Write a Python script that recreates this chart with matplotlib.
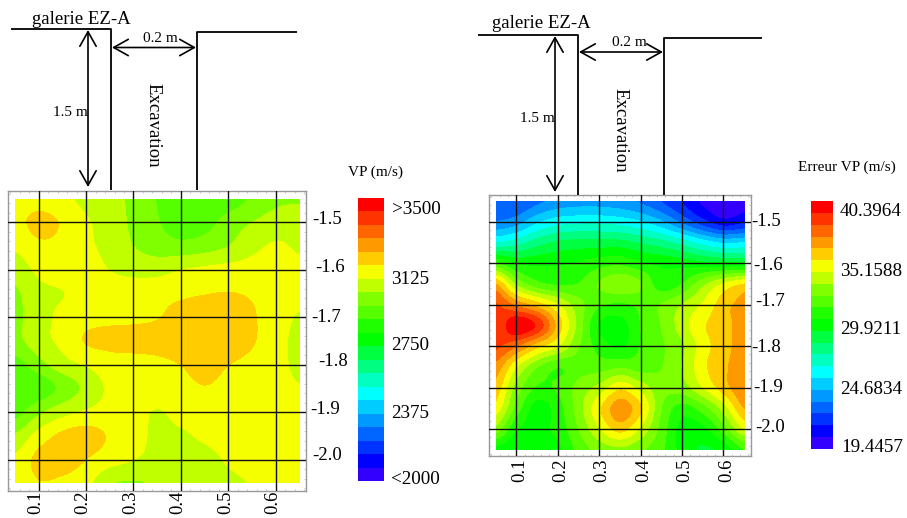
import numpy as np
import matplotlib
matplotlib.use('Agg')
import matplotlib.pyplot as plt
from matplotlib.colors import ListedColormap, BoundaryNorm
from matplotlib.patches import Rectangle

plt.rcParams['font.family'] = ['Liberation Serif', 'DejaVu Serif']

W, H = 907, 518

# --- Data ---
x_ticks = [0.1, 0.2, 0.3, 0.4, 0.5, 0.6]
y_ticks = [-1.5, -1.6, -1.7, -1.8, -1.9, -2.0]
x_tick_labels = ['0.1', '0.2', '0.3', '0.4', '0.5', '0.6']
y_tick_labels = ['-1.5', '-1.6', '-1.7', '-1.8', '-1.9', '-2.0']

# rows go from y=-1.45 down to y=-2.05, columns from x=0.05 to x=0.65, step 0.05
vp_values = [
    [3100, 3110, 3090, 3050, 3020, 2985, 2925, 2880, 2865, 2885, 2940, 2985, 2990],
    [3120, 3165, 3135, 3080, 3040, 2985, 2935, 2885, 2900, 2960, 3000, 3030, 3040],
    [3085, 3130, 3125, 3085, 3050, 3000, 2965, 2950, 2965, 3000, 3050, 3080, 3060],
    [3030, 3090, 3110, 3100, 3070, 3050, 3045, 3070, 3085, 3095, 3100, 3105, 3090],
    [2990, 3050, 3070, 3100, 3105, 3110, 3120, 3130, 3140, 3145, 3135, 3115, 3095],
    [2985, 3040, 3090, 3115, 3125, 3130, 3140, 3165, 3175, 3175, 3150, 3105, 3065],
    [2980, 3045, 3090, 3150, 3165, 3165, 3165, 3175, 3185, 3180, 3150, 3100, 3050],
    [2900, 2975, 3045, 3080, 3110, 3120, 3130, 3145, 3165, 3145, 3125, 3095, 3055],
    [2860, 2880, 2950, 3020, 3085, 3100, 3115, 3125, 3140, 3125, 3115, 3095, 3075],
    [2900, 2985, 3045, 3080, 3095, 3095, 3068, 3095, 3105, 3105, 3105, 3100, 3090],
    [3010, 3100, 3160, 3175, 3135, 3095, 3060, 3062, 3085, 3100, 3105, 3105, 3100],
    [3085, 3165, 3180, 3145, 3105, 3075, 3050, 3040, 3050, 3080, 3095, 3100, 3100],
    [3100, 3140, 3130, 3095, 3010, 2995, 3010, 3025, 3040, 3060, 3075, 3095, 3100],
]
err_values = [
    [22.5, 22.5, 23.2, 23.8, 24.0, 24.0, 23.8, 23.3, 22.4, 21.3, 20.2, 19.6, 20.0],
    [23.5, 24.0, 25.3, 26.0, 26.2, 26.2, 26.0, 25.5, 24.6, 23.2, 21.8, 20.8, 21.3],
    [26.5, 27.0, 28.0, 28.6, 28.8, 28.8, 28.8, 28.3, 27.8, 27.0, 26.0, 25.3, 25.5],
    [31.5, 30.3, 30.2, 30.3, 30.5, 31.0, 31.2, 30.6, 30.2, 30.0, 29.7, 29.6, 29.6],
    [36.5, 33.3, 31.8, 31.3, 31.5, 32.5, 33.1, 32.5, 30.8, 31.5, 33.2, 34.6, 35.5],
    [38.5, 37.2, 36.0, 34.5, 32.8, 31.6, 31.3, 31.7, 32.5, 33.5, 34.6, 36.0, 36.8],
    [38.5, 40.3, 39.2, 36.0, 33.0, 30.3, 30.0, 31.5, 32.5, 34.0, 35.3, 36.0, 37.0],
    [38.6, 37.5, 35.8, 34.5, 32.5, 31.0, 30.3, 31.5, 32.3, 33.3, 35.0, 36.0, 37.0],
    [37.0, 34.5, 32.5, 31.5, 32.0, 32.0, 32.3, 32.0, 32.4, 33.5, 35.2, 36.2, 37.2],
    [36.0, 33.0, 31.3, 31.6, 32.8, 33.8, 35.2, 34.0, 32.8, 33.0, 34.5, 36.0, 37.3],
    [35.0, 32.0, 30.0, 31.0, 33.0, 35.3, 37.0, 35.5, 32.4, 31.0, 32.0, 34.0, 36.5],
    [33.0, 30.5, 30.1, 30.8, 32.5, 34.4, 35.8, 34.2, 32.0, 30.0, 30.2, 32.0, 34.5],
    [30.0, 29.5, 29.8, 30.2, 31.8, 32.8, 33.2, 32.6, 31.6, 30.0, 29.3, 29.8, 31.5],
]

vp_range = (2000, 3500)
err_range = (19.4457, 40.3964)
vp_cbar_labels = ['>3500', '3125', '2750', '2375', '<2000']
err_cbar_labels = ['40.3964', '35.1588', '29.9211', '24.6834', '19.4457']

# bottom to top, 21 bands
band_colors = ['#3300ff', '#0000ff', '#0033ff', '#0066ff', '#0099ff', '#00ccff', '#00ffff',
               '#00ffc0', '#00ff80', '#00ff40', '#00ff00', '#20ff00', '#55ff00', '#80ff00',
               '#bfff00', '#f5ff00', '#ffcc00', '#ff9900', '#ff6600', '#ff3300', '#ff0000']
cmap = ListedColormap(band_colors)


def px_axes(x0, y0, x1, y1):
    # axes from pixel box, y measured from the top
    return fig.add_axes([x0 / W, 1 - y1 / H, (x1 - x0) / W, (y1 - y0) / H])


def map_panel(box, xlim, ylim, values, vrange, xlab_dx, xlab_y, ylab_pos):
    ax = px_axes(*box)
    levels = np.linspace(vrange[0], vrange[1], 22)
    norm = BoundaryNorm(levels, cmap.N, clip=True)
    im = ax.imshow(values, cmap=cmap, norm=norm, aspect='auto', origin='upper',
                   extent=[0.025, 0.675, -2.075, -1.425],
                   interpolation='catrom', interpolation_stage='data')
    im.set_clip_path(Rectangle((0.05, -2.05), 0.6, 0.6, transform=ax.transData))
    ax.set_xlim(*xlim)
    ax.set_ylim(*ylim)
    ax.set_xticks(x_ticks)
    ax.set_yticks(y_ticks)
    ax.set_xticks(np.arange(0.04, 0.67, 0.02), minor=True)
    ax.set_yticks(np.arange(-2.06, -1.43, 0.02), minor=True)
    ax.tick_params(which='major', length=0, labelbottom=False, labelleft=False)
    ax.tick_params(which='minor', length=1.5, width=0.4, color='#a0a0a0',
                   direction='in', top=True, right=True)
    ax.grid(True, which='major', color='#101010', lw=1.0)
    ax.set_axisbelow(False)
    for s in ax.spines.values():
        s.set_color('#999999')
        s.set_linewidth(1.0)
    for tx, lab in zip(x_ticks, x_tick_labels):
        ax.annotate(lab, (tx, 0), xycoords=('data', 'axes fraction'),
                    xytext=(xlab_dx, -xlab_y), textcoords='offset pixels', rotation=90,
                    ha='center', va='center', fontsize=13.5, annotation_clip=False)
    for lab, (lx, ly) in zip(y_tick_labels, ylab_pos):
        ov.text(lx, ly, lab, ha='left', va='center', fontsize=13.5)
    return ax


def colorbar_panel(box, vrange, labels, lab_x, lab_y):
    ax = px_axes(*box)
    levels = np.linspace(vrange[0], vrange[1], 22)
    norm = BoundaryNorm(levels, cmap.N)
    mids = 0.5 * (levels[:-1] + levels[1:])
    ax.pcolormesh([0, 1], levels, mids[:, None], cmap=cmap, norm=norm)
    ax.axis('off')
    for lab, lx, ly in zip(labels, lab_x, lab_y):
        ov.text(lx, ly, lab, ha='left', va='center', fontsize=13.8)


def schematic(lx0, lx1, rx0, rx1, top_l, top_r, bottom, arrow_x, arrow_y,
              gal_xy, m02_xy, m15_xy, exc_xy):
    line = dict(color='black', lw=1.3, solid_capstyle='butt')
    ov.plot([lx0, lx1, lx1], [top_l, top_l, bottom], **line)
    ov.plot([rx1, rx0, rx0], [top_r, top_r, bottom], **line)
    head = dict(arrowstyle='<->,head_length=0.75,head_width=0.42', color='black', lw=1.2,
                shrinkA=0, shrinkB=0, mutation_scale=14)
    ov.annotate('', xy=(arrow_x, top_l + 1), xytext=(arrow_x, bottom - 3), arrowprops=head)
    ov.annotate('', xy=(lx1 + 1, arrow_y), xytext=(rx0 - 1, arrow_y), arrowprops=head)
    ov.text(*gal_xy, 'galerie EZ-A', ha='center', va='center', fontsize=13.5)
    ov.text(*m02_xy, '0.2 m', ha='center', va='center', fontsize=11)
    ov.text(*m15_xy, '1.5 m', ha='center', va='center', fontsize=11)
    ov.text(*exc_xy, 'Excavation', ha='center', va='center', fontsize=13.5, rotation=-90)


fig = plt.figure(figsize=(W / 100, H / 100), dpi=100)

# overlay in pixel coordinates for the hand-drawn parts
ov = fig.add_axes([0, 0, 1, 1], zorder=5)
ov.set_xlim(0, W)
ov.set_ylim(H, 0)
ov.axis('off')
ov.patch.set_alpha(0)

map_panel((7.5, 191, 306, 491), (0.0342, 0.664), (-2.066, -1.434), vp_values, vp_range,
          -3, 11, [(312, 219), (315, 268), (311, 317), (318, 361), (310, 409), (312, 455)])
map_panel((489.3, 194.7, 750.7, 456), (0.0348, 0.666), (-2.065, -1.4349), err_values, err_range,
          3, 14, [(751, 221), (753, 265), (755, 301), (751, 347), (753, 387), (755, 428)])

colorbar_panel((358, 198, 384, 481), vp_range, vp_cbar_labels,
               [392, 391, 391, 391, 391], [210, 279, 345, 413, 480])
colorbar_panel((810.7, 201.3, 833.3, 448.7), err_range, err_cbar_labels,
               [840, 840, 840, 840, 841], [212, 271, 330, 389, 447])

schematic(11, 111, 197, 297, 29, 32, 190, 88, 47.5,
          (81, 19), (160, 38), (70, 113), (153, 125))
schematic(478, 578, 664, 762, 35, 38, 195, 555, 52,
          (541, 23), (629, 43), (537, 118), (620, 130))

ov.text(376, 172, 'VP (m/s)', ha='center', va='center', fontsize=11)
ov.text(847, 167, 'Erreur VP (m/s)', ha='center', va='center', fontsize=11)

fig.savefig('out.png', dpi=100)
